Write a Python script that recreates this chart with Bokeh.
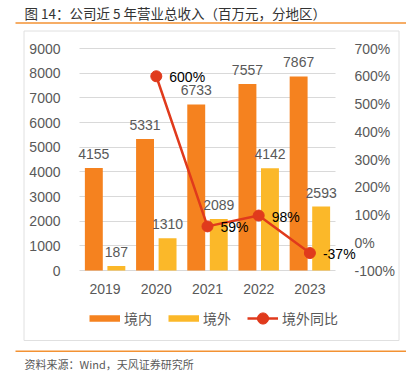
from bokeh.plotting import figure
from bokeh.models import (ColumnDataSource, Range1d, LinearAxis, FixedTicker, PrintfTickFormatter,
                          LabelSet, Label, Legend, LegendItem, BoxAnnotation, Grid)
from bokeh.core.properties import value
from bokeh.transform import dodge
from bokeh.embed import file_html
from bokeh.resources import INLINE

# ---- data ----
years = ["2019", "2020", "2021", "2022", "2023"]
domestic = [4155, 5331, 6733, 7557, 7867]
overseas = [187, 1310, 2089, 4142, 2593]
overseas_yoy = [None, 600, 59, 98, -37]
left_ticks = [0, 1000, 2000, 3000, 4000, 5000, 6000, 7000, 8000, 9000]
right_ticks = [-100, 0, 100, 200, 300, 400, 500, 600, 700]
legend_names = ["境内", "境外", "境外同比"]
title_text = "图 14：公司近 5 年营业总收入（百万元，分地区）"
source_text = "资料来源：Wind，天风证券研究所"

# ---- style ----
C_DOM = "#F5821F"
C_OVS = "#FBB829"
C_LINE = "#E03A1C"
C_ORANGE = "#F39233"
C_GRID = "#D9D9D9"
C_BOX = "#E0E0E0"
C_TXT = "#595959"
LAT = "Liberation Sans"
CJK = "Noto Sans CJK SC"

# ---- geometry (pixels) ----
W, H = 406, 371
PL, PR, PT, PB = 79, 335, 48, 270          # plotting area inside the canvas
n = len(years)
ppx = (PR - PL) / n                         # pixels per category
ppy = (PB - PT) / (left_ticks[-1] - left_ticks[0])
ppp = (PB - PT) / (right_ticks[-1] - right_ticks[0])

x0 = -0.5 - PL / ppx
y0 = left_ticks[0] - (H - PB) / ppy
p0 = right_ticks[0] - (H - PB) / ppp

p = figure(width=W, height=H, output_backend="svg", toolbar_location=None,
           x_range=Range1d(x0, x0 + W / ppx), y_range=Range1d(y0, y0 + H / ppy),
           min_border=0, outline_line_color=None,
           background_fill_color="white", border_fill_color="white")
p.extra_y_ranges = {"pct": Range1d(p0, p0 + H / ppp)}
p.axis.visible = False
p.xgrid.grid_line_color = None
p.ygrid.grid_line_color = None

def dx(cx):
    return x0 + cx / ppx

def dy(cy):
    return y0 + (H - cy) / ppy

def style_axis(ax, standoff):
    ax.axis_line_color = None
    ax.major_tick_line_color = None
    ax.minor_tick_line_color = None
    ax.major_label_text_font = LAT
    ax.major_label_text_font_size = "14px"
    ax.major_label_text_color = C_TXT
    ax.major_label_standoff = standoff

lax = LinearAxis(ticker=FixedTicker(ticks=left_ticks), fixed_location=-0.5)
style_axis(lax, 13)
p.add_layout(lax, "left")
rax = LinearAxis(y_range_name="pct", ticker=FixedTicker(ticks=right_ticks),
                 formatter=PrintfTickFormatter(format="%d%%"), fixed_location=n - 0.5)
style_axis(rax, 13)
p.add_layout(rax, "right")
bax = LinearAxis(ticker=FixedTicker(ticks=list(range(n))),
                 major_label_overrides={i: y for i, y in enumerate(years)},
                 fixed_location=left_ticks[0])
style_axis(bax, 7)
p.add_layout(bax, "below")

# horizontal grid lines at the left-axis ticks
if "cross_bounds" in Grid.properties():
    g = Grid(dimension=1, ticker=lax.ticker, grid_line_color=C_GRID, cross_bounds=(-0.5, n - 0.5))
    p.add_layout(g)
else:
    p.segment(x0=[-0.5] * len(left_ticks), x1=[n - 0.5] * len(left_ticks), y0=left_ticks,
              y1=left_ticks, line_color=C_GRID, line_width=1)

# bars
src = ColumnDataSource(dict(x=list(range(n)), dom=domestic, ovs=overseas,
                            dom_t=[str(v) for v in domestic], ovs_t=[str(v) for v in overseas]))
r_dom = p.vbar(x=dodge("x", -0.22), top="dom", width=0.35, source=src, fill_color=C_DOM, line_color=None)
r_ovs = p.vbar(x=dodge("x", 0.22), top="ovs", width=0.35, source=src, fill_color=C_OVS, line_color=None)

# growth line
idx = [i for i, v in enumerate(overseas_yoy) if v is not None]
lsrc = ColumnDataSource(dict(x=idx, y=[overseas_yoy[i] for i in idx],
                             t=["%d%%" % overseas_yoy[i] for i in idx]))
r_line = p.line("x", "y", source=lsrc, y_range_name="pct", line_color=C_LINE, line_width=2.5)
r_pts = p.scatter("x", "y", source=lsrc, y_range_name="pct", size=11, marker="circle",
                  fill_color=C_LINE, line_color=C_LINE)

# value labels
p.add_layout(LabelSet(x=dodge("x", -0.22), y="dom", text="dom_t", source=src, text_align="center",
                      text_baseline="alphabetic", y_offset=9, text_font=value(LAT),
                      text_font_size=value("14px"), text_color=C_TXT))
p.add_layout(LabelSet(x=dodge("x", 0.22), y="ovs", text="ovs_t", source=src, text_align="center",
                      text_baseline="alphabetic", y_offset=9, text_font=value(LAT),
                      text_font_size=value("14px"), text_color=C_TXT))
p.add_layout(LabelSet(x="x", y="y", text="t", source=lsrc, y_range_name="pct", text_align="left",
                      text_baseline="middle", x_offset=13, y_offset=-1, text_font=value(LAT),
                      text_font_size=value("14px"), text_color="black"))

# legend (bar swatches drawn as thick lines in the legend only; NaN data, nothing in the plot)
nan = float("nan")
sw_dom = p.line(x=[nan, nan], y=[nan, nan], line_color=C_DOM, line_width=6.5)
sw_ovs = p.line(x=[nan, nan], y=[nan, nan], line_color=C_OVS, line_width=6.5)
leg = Legend(items=[LegendItem(label=legend_names[0], renderers=[sw_dom]),
                    LegendItem(label=legend_names[1], renderers=[sw_ovs]),
                    LegendItem(label=legend_names[2], renderers=[r_line, r_pts])],
             location=(89, H - 331.5), orientation="horizontal", glyph_width=31, glyph_height=28,
             label_standoff=4, spacing=16, padding=0, margin=0, border_line_color=None,
             background_fill_alpha=0, label_text_font=CJK, label_text_font_size="14px",
             label_text_color=C_TXT, label_height=20)
p.add_layout(leg, "center")

# decorations: title, rules, frame box, source
p.add_layout(Label(x=dx(24), y=dy(12), text=title_text, text_font=CJK, text_font_size="13.5px",
                   text_color="#333333", text_baseline="middle", text_align="left"))
p.add_layout(BoxAnnotation(left=dx(15), right=dx(W), top=dy(21.7), bottom=dy(23.2),
                           fill_color=C_ORANGE, fill_alpha=1, line_color=None))
p.add_layout(BoxAnnotation(left=dx(23.5), right=dx(398.5), top=dy(30.5), bottom=dy(340),
                           fill_alpha=0, line_color=C_BOX, line_width=1, line_alpha=1))
p.add_layout(BoxAnnotation(left=dx(15), right=dx(W), top=dy(350), bottom=dy(351.5),
                           fill_color=C_ORANGE, fill_alpha=1, line_color=None))
p.add_layout(Label(x=dx(24), y=dy(363.5), text=source_text, text_font=CJK, text_font_size="11px",
                   text_color=C_TXT, text_baseline="middle", text_align="left"))

open("out.html", "w").write(file_html(p, INLINE))
